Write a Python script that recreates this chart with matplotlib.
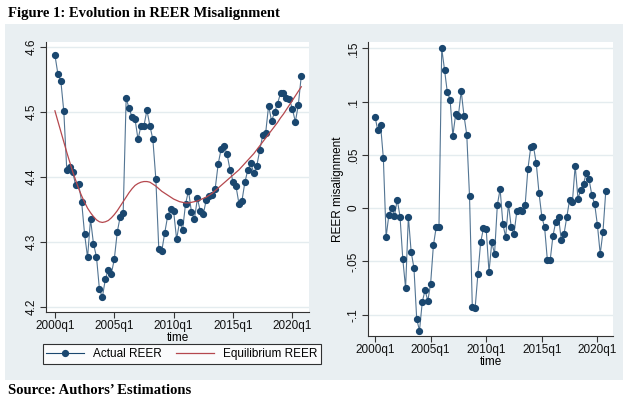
import numpy as np
import matplotlib
matplotlib.use("Agg")
import matplotlib.pyplot as plt
from matplotlib.patches import Rectangle
from matplotlib.lines import Line2D

# ---------------- data ----------------
start_year = 2000          # first observation 2000q1, quarterly to 2020q4
actual_reer = [4.588, 4.559, 4.548, 4.501, 4.411, 4.416, 4.408, 4.387, 4.389, 4.362,
               4.312, 4.276, 4.335, 4.297, 4.277, 4.227, 4.215, 4.243, 4.257, 4.251,
               4.273, 4.315, 4.339, 4.345, 4.521, 4.506, 4.492, 4.489, 4.458, 4.479,
               4.479, 4.503, 4.479, 4.458, 4.397, 4.289, 4.286, 4.314, 4.340, 4.351,
               4.347, 4.304, 4.331, 4.318, 4.358, 4.379, 4.346, 4.335, 4.367, 4.347,
               4.343, 4.365, 4.371, 4.373, 4.382, 4.420, 4.443, 4.448, 4.435, 4.411,
               4.393, 4.386, 4.359, 4.363, 4.392, 4.411, 4.421, 4.406, 4.417, 4.441,
               4.464, 4.468, 4.510, 4.486, 4.500, 4.513, 4.529, 4.529, 4.521, 4.520,
               4.505, 4.485, 4.511, 4.556]
equilibrium_reer = [4.502, 4.486, 4.470, 4.454, 4.438, 4.423, 4.408, 4.395, 4.382, 4.371,
                    4.361, 4.352, 4.345, 4.339, 4.334, 4.331, 4.330, 4.331, 4.333, 4.337,
                    4.342, 4.348, 4.355, 4.362, 4.369, 4.376, 4.382, 4.387, 4.390, 4.392,
                    4.393, 4.393, 4.392, 4.389, 4.386, 4.382, 4.378, 4.375, 4.372, 4.369,
                    4.366, 4.364, 4.362, 4.361, 4.360, 4.360, 4.361, 4.362, 4.363, 4.365,
                    4.367, 4.369, 4.372, 4.375, 4.379, 4.383, 4.387, 4.391, 4.395, 4.399,
                    4.403, 4.407, 4.411, 4.416, 4.421, 4.426, 4.431, 4.436, 4.442, 4.448,
                    4.454, 4.460, 4.466, 4.472, 4.478, 4.484, 4.491, 4.497, 4.504, 4.511,
                    4.518, 4.525, 4.532, 4.539]
misalignment = [0.086, 0.073, 0.078, 0.047, -0.027, -0.006, 0.000, -0.007, 0.008, -0.008,
                -0.048, -0.075, -0.008, -0.041, -0.056, -0.104, -0.115, -0.088, -0.077, -0.087,
                -0.071, -0.035, -0.018, -0.018, 0.150, 0.130, 0.109, 0.102, 0.068, 0.088,
                0.087, 0.110, 0.087, 0.069, 0.011, -0.093, -0.094, -0.062, -0.032, -0.019,
                -0.020, -0.060, -0.032, -0.043, 0.003, 0.018, -0.015, -0.027, 0.004, -0.018,
                -0.024, -0.003, -0.002, -0.003, 0.003, 0.037, 0.057, 0.058, 0.042, 0.014,
                -0.008, -0.018, -0.049, -0.049, -0.026, -0.013, -0.008, -0.030, -0.024, -0.008,
                0.008, 0.006, 0.040, 0.009, 0.017, 0.023, 0.033, 0.027, 0.012, 0.004,
                -0.016, -0.043, -0.022, 0.016]
x_tick_years = [2000, 2005, 2010, 2015, 2020]
x_tick_labels = ["2000q1", "2005q1", "2010q1", "2015q1", "2020q1"]
left_y_ticks = [4.2, 4.3, 4.4, 4.5, 4.6]
left_y_labels = ["4.2", "4.3", "4.4", "4.5", "4.6"]
right_y_ticks = [-0.1, -0.05, 0.0, 0.05, 0.1, 0.15]
right_y_labels = ["-.1", "-.05", "0", ".05", ".1", ".15"]

t = start_year + np.arange(len(actual_reer)) / 4.0

# ---------------- style ----------------
plt.rcParams['font.family'] = ['Liberation Sans', 'DejaVu Sans']
NAVY = '#1a476f'
MAROON = '#b5484e'
BG = '#e9eff2'
GRID = '#e4ecef'
AXC = '#333333'

fig = plt.figure(figsize=(6.28, 4.0), dpi=100)
fig.patch.set_facecolor('white')
bg = Rectangle((5 / 628, 1 - 380 / 400), 618 / 628, 356 / 400,
               transform=fig.transFigure, facecolor=BG,
               edgecolor='none', zorder=-10)
fig.patches.append(bg)

fig.text(8 / 628, 1 - 14 / 400, "Figure 1: Evolution in REER Misalignment",
         family='Liberation Serif', fontweight='bold', fontsize=10.5,
         ha='left', va='center')
fig.text(8 / 628, 1 - 390 / 400, "Source: Authors\u2019 Estimations",
         family='Liberation Serif', fontweight='bold', fontsize=10.5,
         ha='left', va='center')


def style_axes(ax):
    ax.set_facecolor('white')
    for s in ('top', 'right'):
        ax.spines[s].set_visible(False)
    for s in ('left', 'bottom'):
        ax.spines[s].set_color(AXC)
        ax.spines[s].set_linewidth(0.8)
    ax.tick_params(axis='both', direction='out', length=4, width=0.8,
                   color=AXC, labelsize=8.5, labelcolor='#111111', pad=2)
    ax.grid(axis='y', color=GRID, linewidth=1.0)
    ax.set_axisbelow(True)
    ax.set_xticks(x_tick_years)
    ax.set_xticklabels(x_tick_labels)
    ax.set_xlabel("time", fontsize=8.5, labelpad=0)


# ---------------- left panel ----------------
axL = fig.add_axes([46 / 628, 1 - 312 / 400, 263 / 628, 270 / 400])
axL.set_zorder(1)
style_axes(axL)
axL.plot(t, actual_reer, color=NAVY, lw=0.8, alpha=0.75, zorder=2)
axL.plot(t, actual_reer, 'o', color=NAVY, ms=4.2, mec=NAVY, zorder=3)
axL.plot(t, equilibrium_reer, color=MAROON, lw=0.9, zorder=4)
axL.set_xlim(1999.25, 2021.4)
axL.set_ylim(4.192, 4.608)
axL.set_yticks(left_y_ticks)
axL.set_yticklabels(left_y_labels, rotation=90, va='center')

handles = [Line2D([], [], color=NAVY, lw=0.8, marker='o', ms=4.2),
           Line2D([], [], color=MAROON, lw=0.9)]
leg = fig.legend(handles, ["Actual REER", "Equilibrium REER"], ncol=2,
                 loc='center', bbox_to_anchor=(182 / 628, 1 - 354 / 400),
                 frameon=True, fancybox=False, fontsize=8.5,
                 handlelength=3.2, columnspacing=1.2, borderpad=0.3,
                 handletextpad=0.8)
leg.get_frame().set_edgecolor('black')
leg.get_frame().set_linewidth(0.8)
leg.set_zorder(5)

# ---------------- right panel ----------------
axR = fig.add_axes([368 / 628, 1 - 336 / 400, 245 / 628, 294 / 400])
axR.set_zorder(1)
style_axes(axR)
axR.plot(t, misalignment, color=NAVY, lw=0.8, alpha=0.75, zorder=2)
axR.plot(t, misalignment, 'o', color=NAVY, ms=4.2, mec=NAVY, zorder=3)
axR.set_xlim(1999.37, 2021.4)
axR.set_ylim(-0.120, 0.156)
axR.set_yticks(right_y_ticks)
axR.set_yticklabels(right_y_labels, rotation=90, va='center')
axR.set_ylabel("REER misalignment", fontsize=8.5, labelpad=3)

fig.savefig("out.png", dpi=100, facecolor=fig.get_facecolor())
